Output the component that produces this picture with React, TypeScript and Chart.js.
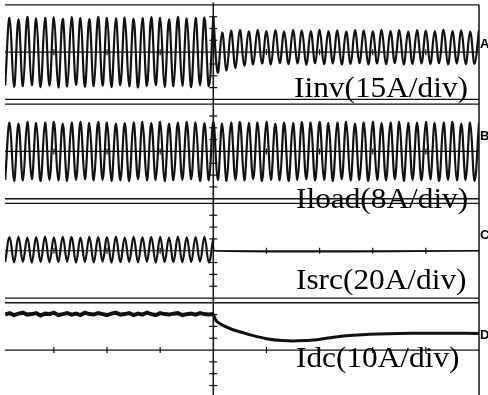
import React, { useEffect, useRef } from "react";
import { Chart, registerables } from "chart.js";

Chart.register(...registerables);

// ---- time base (ms); step at t = 0 ----
const HALF_CYCLE_MS = 1000 / 120; // 60 Hz half period
const T_MIN = -392;
const T_MAX = 500;
const timeTicks = [-300, -200, -100, 100, 200, 300, 400];

// ---- channels ----
const traceLabels = ["Iinv(15A/div)", "Iload(8A/div)", "Isrc(20A/div)", "Idc(10A/div)"];
const channelMarks = ["A", "B", "C", "D"];
const ampsPerDiv = [15, 8, 20, 10];
const markerLevels = [2.5, 2.5, 6.3, 3.0];

// half-cycle peak values before the step (t = -391.7 ... 0 ms), amps
const iinvBefore = [
  -10.6, 10.9, -11.0, 10.4, -10.8, 11.2, -10.5, 10.7, -11.1, 10.9,
  -10.7, 11.0, -11.2, 10.6, -10.9, 11.1, -10.4, 10.8, -11.0, 10.5,
  -10.8, 11.2, -10.6, 10.9, -11.1, 10.7, -10.5, 11.0, -10.9, 10.6,
  -11.2, 10.8, -10.7, 11.1, -10.5, 10.9, -11.0, 10.4, -10.8, 11.2,
  -10.6, 10.7, -11.1, 10.9, -10.5, 11.0, -10.8, 11.3,
];
// half-cycle peak values after the step (t = 8.3 ... 500 ms)
const iinvAfter = [
  -6.5, 6.2, -5.8, 6.8, -5.0, 7.0, -4.3, 6.6, -3.9, 7.1,
  -3.6, 6.7, -3.9, 6.9, -3.5, 6.5, -3.8, 7.0, -3.6, 6.8,
  -4.0, 6.6, -3.5, 7.1, -3.8, 6.7, -3.6, 6.9, -3.9, 6.5,
  -3.7, 7.0, -3.5, 6.8, -3.9, 6.6, -3.6, 7.1, -3.8, 6.7,
  -3.5, 6.9, -3.9, 6.5, -3.7, 7.0, -3.6, 6.8, -3.8, 6.6,
  -3.5, 7.1, -3.9, 6.7, -3.6, 6.9, -3.8, 6.5, -3.7, 7.0,
];
// load current, whole record (t = -391.7 ... 500 ms)
const iloadPeaks = [
  -4.8, 4.9, -5.0, 4.7, -4.9, 5.0, -4.7, 4.8, -5.0, 4.9,
  -4.8, 5.0, -4.9, 4.7, -5.0, 4.9, -4.8, 5.0, -4.7, 4.8,
  -4.9, 5.0, -4.8, 4.9, -5.0, 4.7, -4.9, 4.8, -5.0, 4.9,
  -4.7, 5.0, -4.9, 4.8, -4.8, 5.0, -5.0, 4.7, -4.9, 4.9,
  -4.8, 5.0, -4.7, 4.9, -5.0, 4.8, -4.9, 5.0, -4.8, 4.7,
  -5.0, 4.9, -4.8, 5.0, -4.9, 4.8, -4.7, 4.9, -5.0, 5.0,
  -4.8, 4.7, -4.9, 4.9, -5.0, 4.8, -4.8, 5.0, -4.7, 4.9,
  -4.9, 5.0, -4.8, 4.8, -5.0, 4.9, -4.7, 5.0, -4.9, 4.7,
  -4.8, 4.9, -5.0, 5.0, -4.8, 4.8, -4.9, 4.9, -4.7, 5.0,
  -5.0, 4.8, -4.8, 4.9, -4.9, 5.0, -4.7, 4.8, -5.0, 4.9,
  -4.8, 5.0, -4.9, 4.7, -4.8, 4.9, -5.0, 4.8,
];
const isrcBefore = [
  -4.8, 5.7, -4.9, 5.9, -4.6, 5.6, -5.0, 5.8, -4.7, 6.0,
  -4.9, 5.7, -4.8, 5.9, -4.6, 5.8, -5.0, 5.6, -4.7, 5.9,
  -4.9, 5.8, -4.6, 5.7, -5.0, 6.0, -4.8, 5.6, -4.7, 5.9,
  -4.9, 5.7, -4.6, 5.8, -5.0, 5.9, -4.8, 5.6, -4.7, 6.0,
  -4.9, 5.7, -4.8, 5.8, -4.6, 5.9, -4.9, 5.4,
];
const isrcAfterTimes = [3, 500];
const isrcAfter = [0, 0];
const idcBefore = [
  7.5, 7.8, 7.4, 7.7, 7.9, 7.5, 7.6, 7.8, 7.3, 7.7,
  7.6, 7.9, 7.4, 7.6, 7.8, 7.5, 7.7, 7.4, 7.9, 7.6,
  7.5, 7.8, 7.6, 7.4, 7.7, 7.9, 7.5, 7.6, 7.8, 7.4,
  7.7, 7.5, 7.9, 7.6, 7.4, 7.8, 7.6, 7.5, 7.7, 7.8,
  7.4, 7.6, 7.7, 7.5, 7.8, 7.6, 7.5, 7.6,
];
const idcAfterTimes = [0, 3, 7, 20, 37, 55, 70, 100, 130, 160, 195, 220, 250, 280, 310, 350, 400, 450, 500];
const idcAfter = [7.6, 6.7, 6.0, 5.1, 4.3, 3.7, 3.2, 2.4, 2.0, 1.95, 2.2, 2.6, 3.0, 3.25, 3.4, 3.5, 3.55, 3.55, 3.5];

// sample instants (half-cycle peaks)
const beforeTimes = iinvBefore.map((_, k) => -(iinvBefore.length - 1 - k) * HALF_CYCLE_MS);
const afterTimes = iinvAfter.map((_, j) => (j + 1) * HALF_CYCLE_MS);
const allTimes = [...beforeTimes, ...afterTimes];

const pts = (xs: number[], ys: number[]) => ys.map((y, i) => ({ x: xs[i], y }));

const scopePlugin = {
  id: "scope",
  beforeDatasetsDraw(chart: any) {
    const { ctx, chartArea: ca, scales } = chart;
    const xs = scales.x;
    const x0 = xs.getPixelForValue(0);
    const seg = (a: number, b: number, c: number, d: number) => {
      ctx.beginPath();
      ctx.moveTo(a, b);
      ctx.lineTo(c, d);
      ctx.stroke();
    };
    ctx.save();
    ctx.strokeStyle = "#111";
    for (let i = 0; i < 4; i++) {
      const ys = scales["y" + i];
      const div = ampsPerDiv[i];
      const yTop = ys.getPixelForValue(div);
      const yBot = ys.getPixelForValue(-div);
      const yZero = ys.getPixelForValue(0);
      ctx.lineWidth = 1.3;
      seg(ca.left, yTop, ca.right, yTop);
      seg(ca.left, yBot, ca.right, yBot);
      ctx.lineWidth = 1.2;
      seg(ca.left, yZero, ca.right, yZero);
      for (const t of timeTicks) {
        const px = xs.getPixelForValue(t);
        seg(px, yZero - 3, px, yZero + 3);
      }
      for (let k = -3; k <= 3; k++) {
        if (k === 0) continue;
        const py = ys.getPixelForValue((k * div) / 4);
        seg(x0 - 4, py, x0 + 4, py);
      }
    }
    ctx.lineWidth = 1.5;
    seg(x0, ca.top, x0, ca.bottom);
    seg(ca.right, scales.y0.getPixelForValue(ampsPerDiv[0]), ca.right, ca.bottom);
    ctx.restore();
  },
  afterDatasetsDraw(chart: any) {
    const { ctx, scales, chartArea: ca } = chart;
    const labelPos = [
      [294, 97],
      [296, 208],
      [296, 289],
      [296, 367],
    ];
    ctx.save();
    ctx.fillStyle = "#000";
    ctx.font = '29px "Liberation Serif"';
    ctx.textBaseline = "alphabetic";
    traceLabels.forEach((txt, i) => {
      ctx.save();
      ctx.translate(labelPos[i][0], labelPos[i][1]);
      ctx.scale(1.08, 1);
      ctx.fillText(txt, 0, 0);
      ctx.restore();
    });
    ctx.font = 'bold 13px "Liberation Sans"';
    ctx.textBaseline = "middle";
    channelMarks.forEach((m, i) => {
      const py = scales["y" + i].getPixelForValue(markerLevels[i]);
      ctx.fillText(m, ca.right + 1, py);
    });
    ctx.restore();
  },
};

export default function App() {
  const ref = useRef<HTMLCanvasElement | null>(null);
  useEffect(() => {
    if (!ref.current) return;
    const line = (data: any[], axis: string, width: number, tension: number) => ({
      data,
      yAxisID: axis,
      borderColor: "#111",
      borderWidth: width,
      pointRadius: 0,
      tension,
      fill: false,
    });
    const yScale = (i: number) => ({
      type: "linear" as const,
      display: false,
      min: -1.05 * ampsPerDiv[i],
      max: 1.05 * ampsPerDiv[i],
      stack: "scope",
      stackWeight: 1,
      position: "left" as const,
    });
    const chart = new Chart(ref.current, {
      type: "line",
      data: {
        datasets: [
          line(pts(beforeTimes, iinvBefore), "y0", 2.2, 0.4),
          line(pts([0, ...afterTimes], [iinvBefore[iinvBefore.length - 1], ...iinvAfter]), "y0", 2.2, 0.4),
          line(pts(allTimes, iloadPeaks), "y1", 2.2, 0.4),
          line(pts(beforeTimes, isrcBefore), "y2", 2.2, 0.4),
          line(pts([0, ...isrcAfterTimes], [isrcBefore[isrcBefore.length - 1], ...isrcAfter]), "y2", 1.5, 0.2),
          line(pts(beforeTimes, idcBefore), "y3", 4, 0),
          line(pts(idcAfterTimes, idcAfter), "y3", 3, 0.3),
        ],
      },
      options: {
        animation: false,
        responsive: false,
        devicePixelRatio: 1,
        layout: { padding: { top: 2.5, bottom: 0.3, left: 5, right: 9 } },
        plugins: { legend: { display: false }, tooltip: { enabled: false }, title: { display: false } },
        scales: {
          x: { type: "linear", display: false, min: T_MIN, max: T_MAX },
          // stacked panels are placed bottom-up in definition order
          y3: yScale(3),
          y2: yScale(2),
          y1: yScale(1),
          y0: yScale(0),
        },
      },
      plugins: [scopePlugin],
    });
    return () => chart.destroy();
  }, []);
  return (
    <div style={{ position: "fixed", left: 0, top: 0, width: 488, height: 395, overflow: "hidden", background: "#fff" }}>
      <canvas ref={ref} width={488} height={400} style={{ display: "block" }} />
    </div>
  );
}
